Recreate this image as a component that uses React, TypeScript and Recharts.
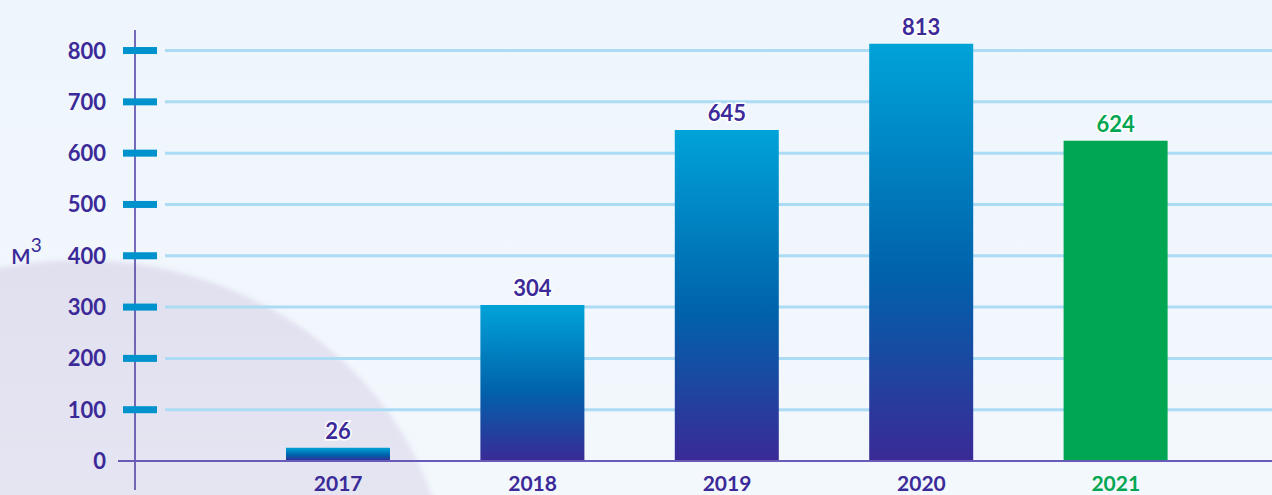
import { BarChart, Bar, XAxis, YAxis, CartesianGrid, Cell, LabelList, ReferenceLine } from "recharts";

const years = ["2017", "2018", "2019", "2020", "2021"];
const volumes = [26, 304, 645, 813, 624];
const yTicks = [0, 100, 200, 300, 400, 500, 600, 700, 800];

const data = years.map((year, i) => ({ year, volume: volumes[i] }));

const PURPLE = "#3b2a98";
const GREEN = "#00a651";
const FONT = "Lato, 'Open Sans', sans-serif";

const YTick = ({ y, payload }: any) => {
  const v = payload.value;
  return (
    <g>
      <text
        x={106}
        y={y}
        dy={8}
        textAnchor="end"
        fontFamily={FONT}
        fontWeight="bold"
        fontSize={22}
        fill={PURPLE}
      >
        {v}
      </text>
      {v === 0 ? (
        <line x1={118} x2={136} y1={y} y2={y} stroke="#6a5ab8" strokeWidth={2} />
      ) : (
        <rect x={123} y={y - 3.5} width={34} height={7} fill="#0092cc" />
      )}
    </g>
  );
};

const XTick = ({ x, payload }: any) => (
  <text
    x={x}
    y={491}
    textAnchor="middle"
    fontFamily={FONT}
    fontWeight="bold"
    fontSize={21}
    fill={payload.value === "2021" ? GREEN : PURPLE}
  >
    {payload.value}
  </text>
);

const ValueLabel = ({ x, y, width, value, index }: any) => (
  <text
    x={x + width / 2}
    y={y - 9}
    textAnchor="middle"
    fontFamily={FONT}
    fontWeight="bold"
    fontSize={22}
    fill={index === years.length - 1 ? GREEN : PURPLE}
    stroke="#ffffff"
    strokeWidth={3}
    paintOrder="stroke"
  >
    {value}
  </text>
);

const gridLine = (props: any) => {
  const { y1, x2, index } = props;
  return <line key={`g${index}`} x1={165} x2={x2} y1={y1} y2={y1} stroke="#acdcf4" strokeWidth={3} />;
};

export default function App() {
  return (
    <div
      style={{
        position: "absolute",
        left: 0,
        top: 0,
        width: 1272,
        height: 495,
        overflow: "hidden",
        background: "linear-gradient(180deg, #eef5fc 0%, #f3f8fd 100%)",
      }}
    >
      <div
        style={{
          position: "absolute",
          left: -290,
          top: 260,
          width: 740,
          height: 680,
          borderRadius: "50%",
          background: "linear-gradient(180deg, #e1e0ef 0%, #e6e6f3 40%, #ebedf7 100%)",
          filter: "blur(2px)",
        }}
      />
      <div
        style={{
          position: "absolute",
          left: 11,
          top: 235,
          fontFamily: FONT,
          fontSize: 28,
          color: PURPLE,
        }}
      >
        м<sup style={{ fontSize: 19, position: "relative", top: -2 }}>3</sup>
      </div>
      <div style={{ position: "absolute", left: 0, top: 0 }}>
        <BarChart
          width={1272}
          height={495}
          data={data}
          margin={{ top: 30, right: 0, bottom: 0, left: 0 }}
        >
          <defs>
            <linearGradient id="blueBar" x1="0" y1="0" x2="0" y2="1">
              <stop offset="0%" stopColor="#00a3d8" />
              <stop offset="55%" stopColor="#0062ab" />
              <stop offset="100%" stopColor="#3a2a96" />
            </linearGradient>
          </defs>
          <CartesianGrid
            vertical={false}
            horizontalValues={yTicks.slice(1)}
            horizontal={gridLine}
          />
          <XAxis
            dataKey="year"
            height={5}
            axisLine={false}
            tickLine={false}
            tick={<XTick />}
            padding={{ left: 106, right: 59 }}
            interval={0}
          />
          <YAxis
            width={135}
            domain={[-56.5, 840]}
            allowDataOverflow
            ticks={yTicks}
            interval={0}
            tickLine={false}
            axisLine={{ stroke: "#4b3ba3", strokeWidth: 1.5 }}
            tick={<YTick />}
          />
          <ReferenceLine y={0} stroke="#6a5ab8" strokeWidth={2} />
          <Bar dataKey="volume" barSize={104} isAnimationActive={false}>
            {data.map((d, i) => (
              <Cell key={d.year} fill={i === years.length - 1 ? GREEN : "url(#blueBar)"} />
            ))}
            <LabelList dataKey="volume" content={<ValueLabel />} />
          </Bar>
        </BarChart>
      </div>
    </div>
  );
}
